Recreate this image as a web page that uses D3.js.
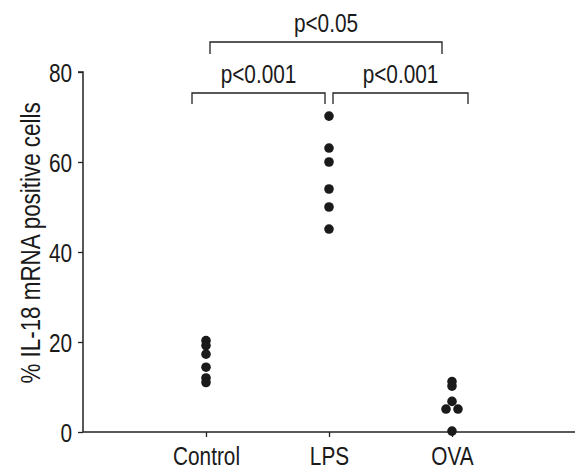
<!DOCTYPE html>
<html>
<head>
<meta charset="utf-8">
<script src="https://cdn.jsdelivr.net/npm/d3@7"></script>
<style>
  body { margin: 0; background: #fff; }
  text { font-family: "Liberation Sans", Arial, sans-serif; fill: #1a1a1a; }
</style>
</head>
<body>
<div id="chart"></div>
<script>
const groups = ["Control", "LPS", "OVA"];
const controlValues = [20.3, 19.2, 17.3, 14.4, 12.0, 11.0];
const lpsValues = [70.2, 63.1, 60.0, 54.0, 50.0, 45.1];
const ovaValues = [11.2, 10.2, 6.8, 5.1, 5.1, 0.2];
const ovaJitter = [0, 0, 0, -1, 1, 0]; // side-by-side dots
const yTicks = [0, 20, 40, 60, 80];
const comparisons = [
    ["Control", "LPS", "p<0.001", 0],
    ["LPS", "OVA", "p<0.001", 0],
    ["Control", "OVA", "p<0.05", 1]
];

const width = 575, height = 472;
const margin = { top: 72, left: 83, bottom: 40 };
const squeeze = 0.8; // fake a condensed face
const fontSize = "26px";

// narrow the text horizontally around its anchor
function condense(sel) {
    sel.each(function () {
        const t = d3.select(this);
        const x0 = +t.attr("x") || 0;
        t.attr("x", x0 / squeeze).attr("transform", `scale(${squeeze},1)`);
    });
}

const svg = d3.select("#chart").append("svg")
    .attr("width", width)
    .attr("height", height);

const x = d3.scalePoint().domain(groups).range([margin.left, width]).padding(1);
const y = d3.scaleLinear().domain([0, 80]).range([height - margin.bottom, margin.top]);

const points = [];
controlValues.forEach(v => points.push({ g: "Control", v: v, j: 0 }));
lpsValues.forEach(v => points.push({ g: "LPS", v: v, j: 0 }));
ovaValues.forEach((v, i) => points.push({ g: "OVA", v: v, j: ovaJitter[i] }));

// axes
const yAxis = svg.append("g")
    .attr("transform", `translate(${margin.left},0)`)
    .call(d3.axisLeft(y).tickValues(yTicks).tickSize(5).tickPadding(6));
const xAxis = svg.append("g")
    .attr("transform", `translate(0,${y(0)})`)
    .call(d3.axisBottom(x).tickSize(5).tickPadding(10));

[yAxis, xAxis].forEach(a => {
    a.select(".domain").attr("stroke", "#222").attr("stroke-width", 1.5);
    a.selectAll(".tick line").attr("stroke", "#222").attr("stroke-width", 1.3);
    a.selectAll(".tick text").style("font-size", fontSize).attr("fill", "#1a1a1a").call(condense);
});
xAxis.select(".domain").attr("d", `M${margin.left},0H${width}`);
yAxis.select(".domain").attr("d", `M-5,${y(80)}H0V${y(0)}`);
yAxis.selectAll(".tick text").attr("dy", "0.36em");

svg.append("text")
    .attr("transform", `translate(40,243) rotate(-90) scale(${squeeze},1)`)
    .attr("text-anchor", "middle")
    .style("font-size", "28px")
    .text("% IL-18 mRNA positive cells");

// dots
svg.selectAll("circle.dot")
    .data(points)
    .enter()
    .append("circle")
    .attr("class", "dot")
    .attr("cx", d => x(d.g) + d.j * 6)
    .attr("cy", d => y(d.v))
    .attr("r", 4.8)
    .attr("fill", "#1a1a1a");

// significance brackets
const bracketY = [93, 42];
const bracketDrop = [11, 12];
svg.selectAll("g.bracket")
    .data(comparisons)
    .enter()
    .append("g")
    .attr("class", "bracket")
    .each(function (d) {
        const g = d3.select(this);
        const lvl = d[3];
        let x1 = x(d[0]), x2 = x(d[1]);
        if (lvl === 0) {
            if (d[0] === "Control") { x1 -= 14; x2 -= 4; }
            else { x1 += 4; x2 += 16; }
        } else { x1 += 4; x2 -= 10; }
        const yy = bracketY[lvl];
        g.append("path")
            .attr("d", `M${x1},${yy + bracketDrop[lvl]}V${yy}H${x2}V${yy + bracketDrop[lvl]}`)
            .attr("fill", "none")
            .attr("stroke", "#222")
            .attr("stroke-width", 1.3);
        g.append("text")
            .attr("x", (x1 + x2) / 2)
            .attr("y", yy - 10)
            .attr("text-anchor", "middle")
            .style("font-size", fontSize)
            .text(d[2])
            .call(condense);
    });
</script>
</body>
</html>
